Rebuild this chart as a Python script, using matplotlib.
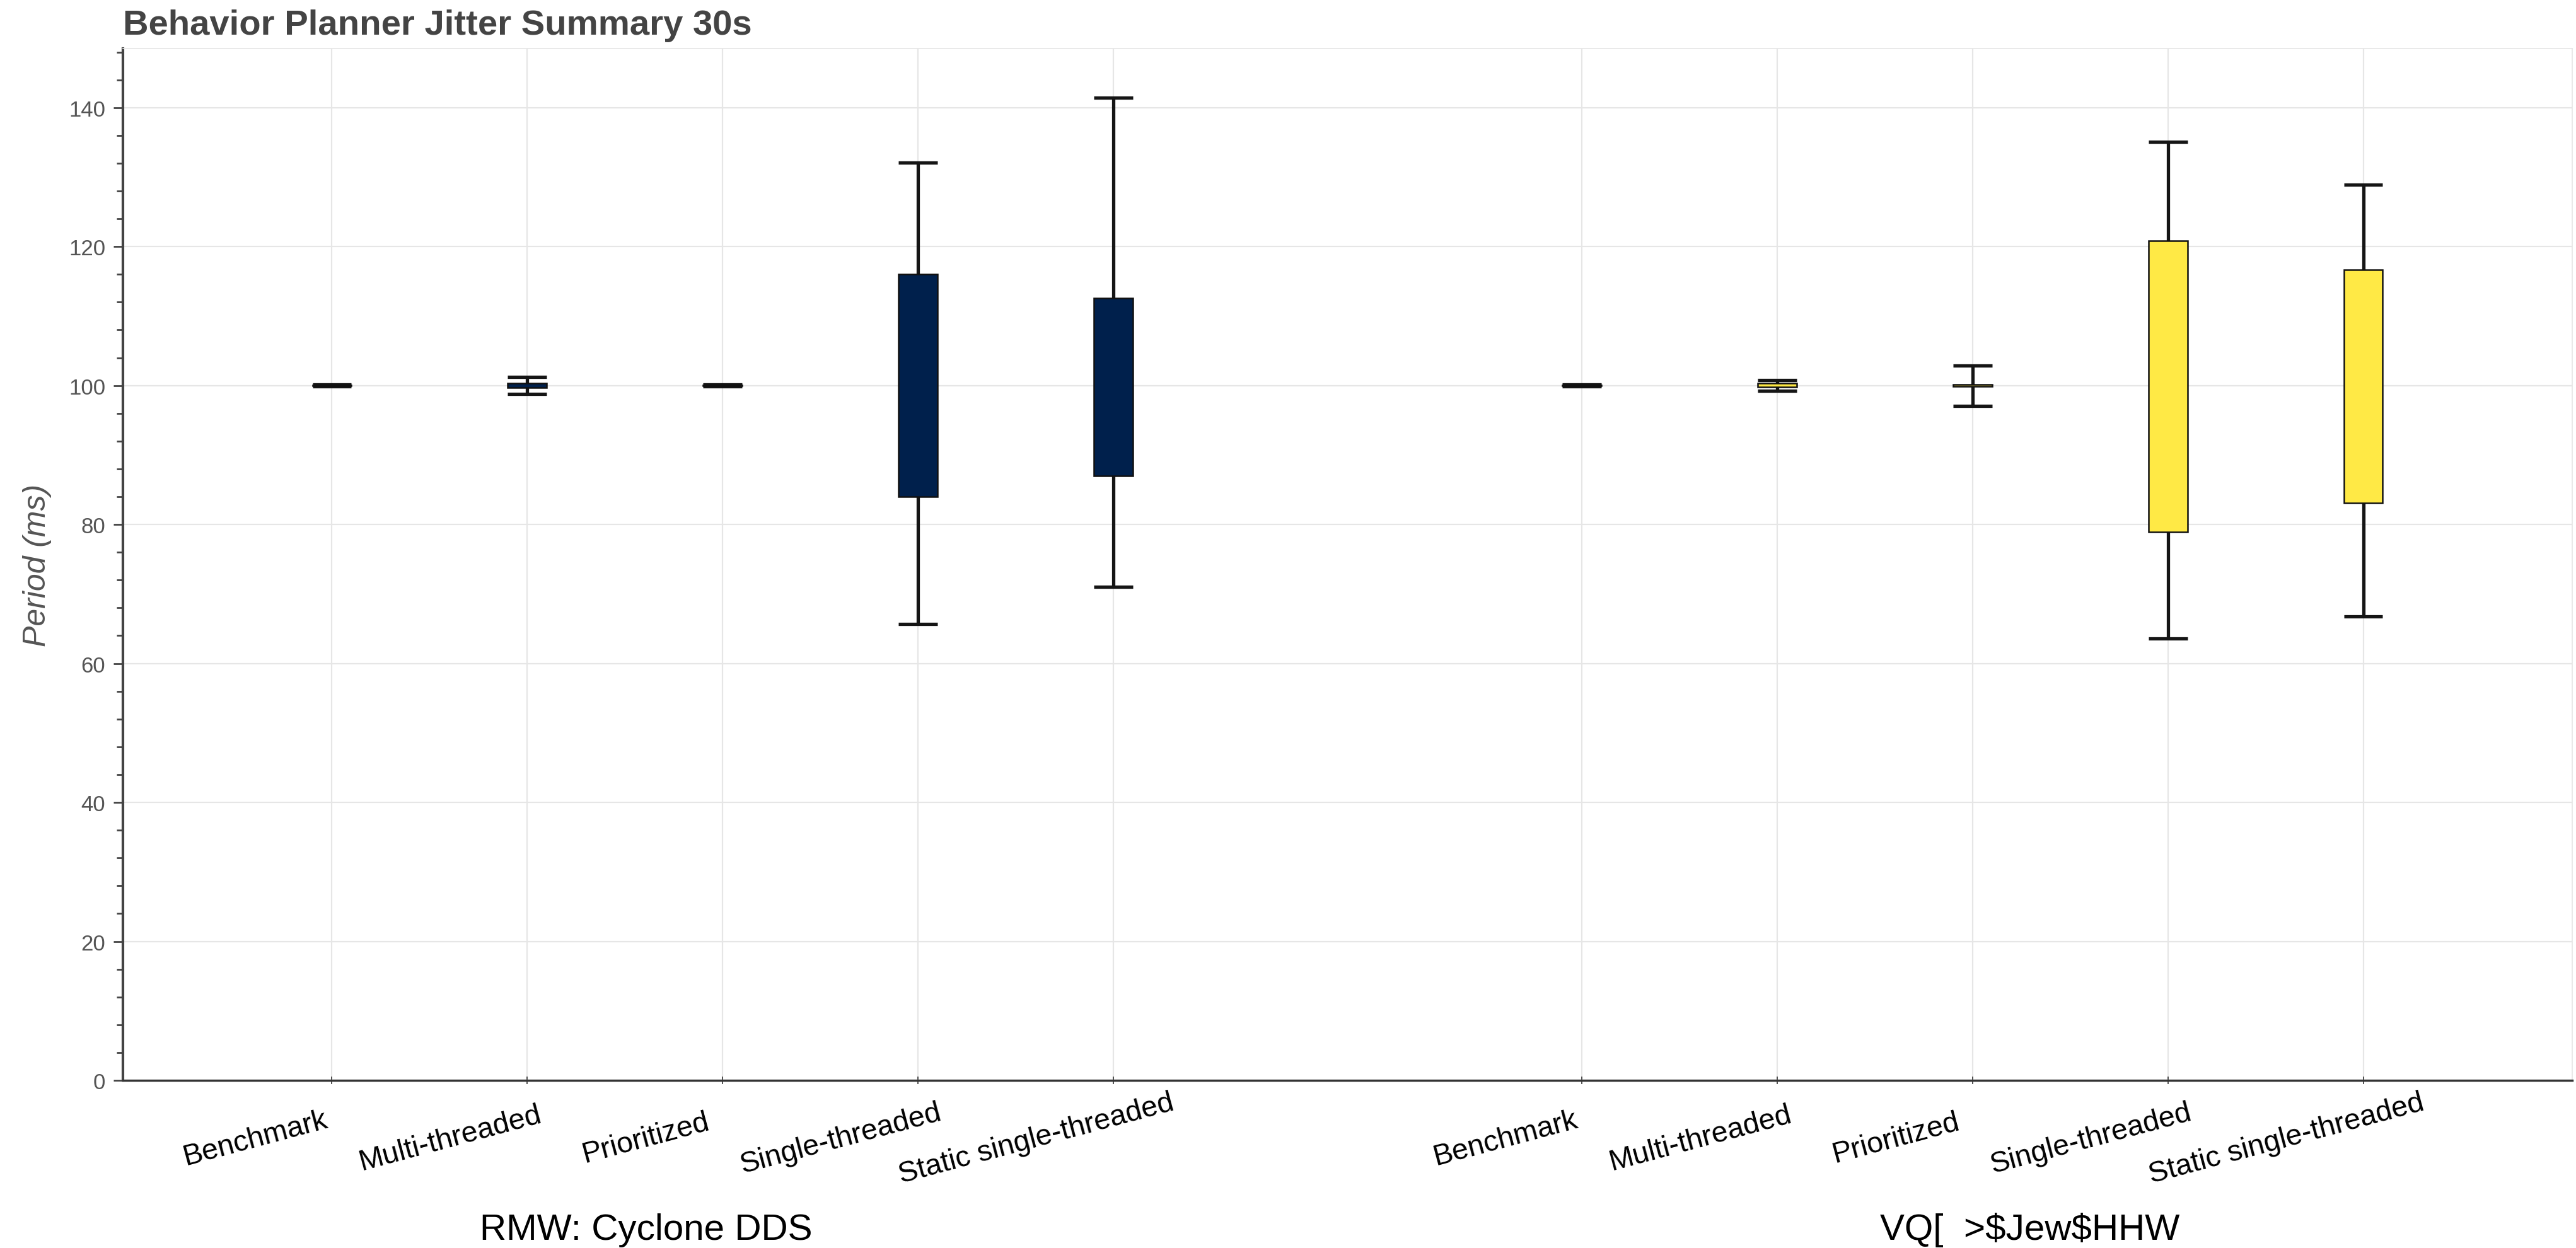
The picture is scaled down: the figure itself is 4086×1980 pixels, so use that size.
import matplotlib
matplotlib.use('Agg')
import matplotlib.pyplot as plt
from matplotlib.ticker import MultipleLocator
from matplotlib.transforms import blended_transform_factory

plt.rcParams['font.family'] = ['Liberation Sans', 'DejaVu Sans']

# ---------------- data ----------------
title = "Behavior Planner Jitter Summary 30s"
categories = ["Benchmark", "Multi-threaded", "Prioritized",
              "Single-threaded", "Static single-threaded"]
groups = ["RMW: Cyclone DDS", "VQ[  >\\$Jew\\$HHW"]
group_colors = ["#00204C", "#FFE945"]

cyclone_lower = [99.85, 98.8, 99.85, 65.7, 71.0]
cyclone_q1 = [99.95, 99.7, 99.95, 84.0, 87.0]
cyclone_q3 = [100.05, 100.3, 100.05, 116.0, 112.6]
cyclone_upper = [100.15, 101.2, 100.15, 132.1, 141.4]

second_lower = [99.85, 99.2, 97.1, 63.6, 66.8]
second_q1 = [99.95, 99.75, 99.85, 78.9, 83.1]
second_q3 = [100.05, 100.3, 100.15, 120.8, 116.7]
second_upper = [100.15, 100.8, 102.9, 135.1, 128.9]

y_ticks = [0, 20, 40, 60, 80, 100, 120, 140]

stats = [
    (cyclone_lower, cyclone_q1, cyclone_q3, cyclone_upper),
    (second_lower, second_q1, second_q3, second_upper),
]

# ---------------- figure ----------------
W, H = 4087, 1981
fig = plt.figure(figsize=(W / 100, H / 100), dpi=100, facecolor='white')
ax = fig.add_axes([195 / W, 1 - 1715 / H, (4080 - 195) / W, (1715 - 78) / H])

group_padding = 1.4
n = len(categories)
all_x = []
box_w = 0.2
for g, (lo, q1, q3, up) in enumerate(stats):
    offset = g * (n + group_padding)
    xs = [offset + i + 0.5 for i in range(n)]
    all_x.extend(xs)
    ax.vlines(xs, lo, up, color='#151515', lw=3.8, zorder=2)
    ax.hlines(up, [x - box_w / 2 for x in xs], [x + box_w / 2 for x in xs],
              color='#151515', lw=3.8, zorder=2)
    ax.hlines(lo, [x - box_w / 2 for x in xs], [x + box_w / 2 for x in xs],
              color='#151515', lw=3.8, zorder=2)
    heights = [b - a for a, b in zip(q1, q3)]
    ax.bar(xs, heights, bottom=q1, width=box_w, color=group_colors[g],
           edgecolor='#111111', linewidth=1.8, zorder=3)

total = 2 * n + group_padding
pad = 0.05 * total
ax.set_xlim(-pad, total + pad)
ax.set_ylim(0, 148.5)

ax.set_xticks(all_x)
ax.set_xticklabels([])
ax.set_yticks(y_ticks)
ax.set_yticklabels([str(t) for t in y_ticks])
ax.yaxis.set_minor_locator(MultipleLocator(4))

ax.grid(True, color='#e6e6e6', lw=1.6, zorder=0)
ax.set_axisbelow(True)

ax.tick_params(axis='y', which='major', length=11, width=2, color='#444444',
               labelsize=25, labelcolor='#555555', pad=9, direction='out')
ax.tick_params(axis='y', which='minor', length=7, width=2, color='#444444',
               direction='out')
ax.tick_params(axis='x', which='major', length=9, width=1.2, color='#333333',
               direction='inout')

for side in ('top', 'right'):
    ax.spines[side].set_color('#e5e5e5')
    ax.spines[side].set_linewidth(1.2)
ax.spines['left'].set_color('#444444')
ax.spines['left'].set_linewidth(3)
ax.spines['bottom'].set_color('#333333')
ax.spines['bottom'].set_linewidth(2.5)

ax.set_ylabel("Period (ms)", fontsize=36, style='italic', color='#555555')
ax.yaxis.set_label_coords(-0.029, 0.5)

# rotated category labels
trans = blended_transform_factory(ax.transData, ax.transAxes)
px_per_unit = (4080 - 195) / (total + 2 * pad)
x_shift = -122 / px_per_unit
y_lab = -92 / (1715 - 78)
for g in range(len(groups)):
    offset = g * (n + group_padding)
    for i, cat in enumerate(categories):
        ax.text(offset + i + 0.5 + x_shift, y_lab, cat, transform=trans,
                rotation=15, ha='center', va='center', fontsize=33.5,
                color='black', clip_on=False)

# group labels
group_label_x = [1025 / W, 3220 / W]
for gx, lab in zip(group_label_x, groups):
    fig.text(gx, 14 / H, lab, ha='center', va='baseline', fontsize=42,
             color='black')

fig.text(195 / W, 1 - 55 / H, title, ha='left', va='baseline', fontsize=40.5,
         fontweight='bold', color='#444444')

fig.savefig('out.png', dpi=100, facecolor='white')
